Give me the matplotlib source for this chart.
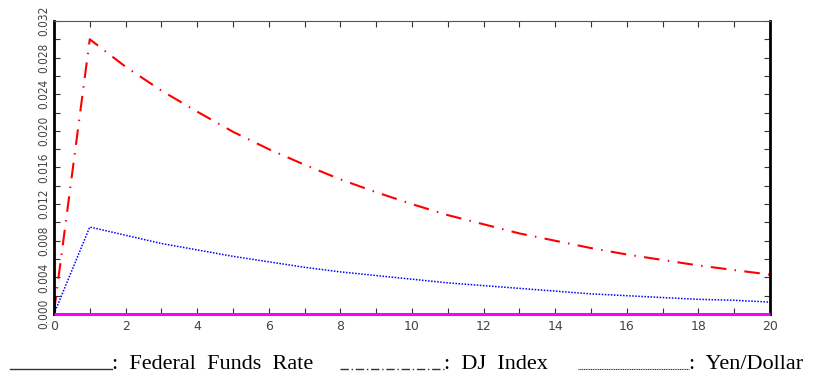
import numpy as np
import matplotlib
matplotlib.use("Agg")
import matplotlib.pyplot as plt
from matplotlib.lines import Line2D

# impulse responses over 0..20 periods
horizon = list(range(21))
dj_index = [0.0002, 0.0300, 0.0270, 0.0244, 0.0221, 0.0199, 0.0180, 0.0163, 0.0147,
            0.0133, 0.0120, 0.0108, 0.0098, 0.0088, 0.0080, 0.0072, 0.0065, 0.0059,
            0.0053, 0.0048, 0.0043]
yen_dollar = [0.0, 0.0095, 0.0086, 0.0077, 0.0070, 0.0063, 0.0057, 0.0051, 0.0046,
              0.0042, 0.0038, 0.0034, 0.0031, 0.0028, 0.0025, 0.0022, 0.0020, 0.0018,
              0.0016, 0.0015, 0.0013]
fed_funds = [0.0] * 21

y_ticks = [0.000, 0.004, 0.008, 0.012, 0.016, 0.020, 0.024, 0.028, 0.032]
x_ticks = [0, 2, 4, 6, 8, 10, 12, 14, 16, 18, 20]

fig = plt.figure(figsize=(8.14, 3.79), dpi=100)
ax = fig.add_axes([0.0663, 0.1715, 0.8797, 0.7731])

ax.plot(horizon, fed_funds, color="#ff00ff", lw=2.2, solid_capstyle="butt",
        zorder=3, clip_on=False)
ax.plot(horizon, dj_index, color="red", lw=1.5, dashes=(7.5, 4, 0.7, 4))
ax.plot(horizon, yen_dollar, color="blue", lw=1.1, ls=(0, (1, 1)))

ax.set_xlim(0, 20)
ax.set_ylim(0, 0.032)
ax.set_xticks(x_ticks)
ax.set_xticks(range(21), minor=True)
ax.set_yticks(y_ticks)
ax.set_yticks(np.arange(0, 0.0321, 0.002), minor=True)
ax.set_yticklabels([f"{v:.3f}" for v in y_ticks], rotation=90, va="center")
ax.tick_params(which="both", direction="in", top=True, right=True,
               colors="#333333", labelcolor="#444444", labelsize=9,
               length=4, width=0.8)
ax.tick_params(axis="x", pad=4)
ax.tick_params(axis="y", pad=3)
for lbl in ax.get_yticklabels():
    lbl.set_fontstretch("condensed")
    lbl.set_fontsize(8.5)

for side in ("left", "right", "bottom"):
    ax.spines[side].set_linewidth(2)
    ax.spines[side].set_color("black")
ax.spines["top"].set_linewidth(0.8)
ax.spines["top"].set_color("#555555")

# legend written out as line samples followed by labels
serif = "Liberation Serif"
ly = 0.027
tx = 0.027
samples = [
    (0.012, 0.137, dict(ls="-", lw=1.0), ":  Federal  Funds  Rate"),
    (0.418, 0.546, dict(dashes=(6, 2, 1, 2), lw=1.0), ":  DJ  Index"),
    (0.710, 0.846, dict(ls=(0, (1, 0.6)), lw=0.8), ":  Yen/Dollar"),
]
for x0, x1, style, label in samples:
    fig.add_artist(Line2D([x0, x1], [ly, ly], color="#333333",
                          transform=fig.transFigure, **style))
    fig.text(x1, tx, label, family=serif, fontsize=16, color="black",
             ha="left", va="baseline")

fig.savefig("out.png", dpi=100)
